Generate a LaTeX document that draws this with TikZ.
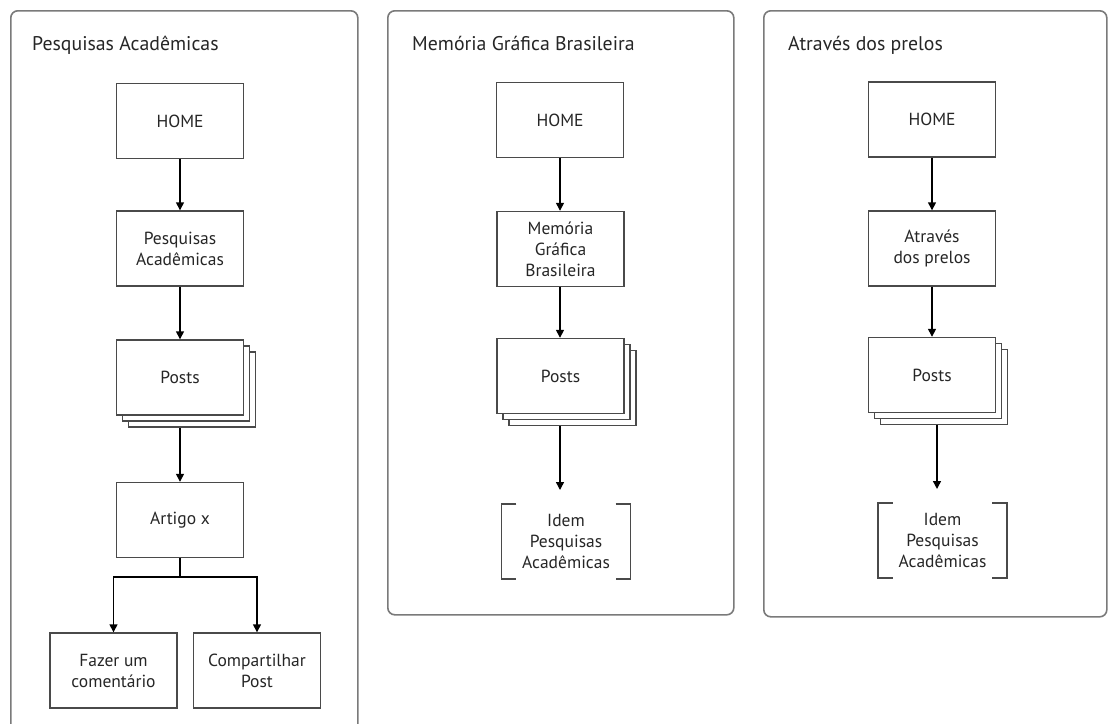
\documentclass[tikz,border=0pt]{standalone}
\usepackage{fontspec}
\setmainfont{PT Sans}
\usetikzlibrary{arrows.meta,calc}
\definecolor{panelgray}{HTML}{7A7A7A}
\definecolor{boxgray}{HTML}{4A4A4A}
\definecolor{txtgray}{HTML}{262626}
\tikzset{
  panel/.style={draw=panelgray, line width=1.6pt, rounded corners=7pt, anchor=north west, inner sep=0pt},
  ptitle/.style={anchor=base west, text=txtgray, font=\fontsize{19.8}{22}\selectfont, inner sep=0pt},
  box/.style={draw=boxgray, line width=1.4pt, fill=white, minimum width=127pt, minimum height=75pt,
              align=center, text=txtgray, font=\fontsize{17.5}{21}\selectfont, inner sep=2pt},
  brtext/.style={minimum width=129pt, minimum height=75pt, align=center, text=txtgray,
              font=\fontsize{17.5}{21}\selectfont, inner sep=2pt},
  brk/.style={draw=boxgray, line width=1.5pt},
  arr/.style={draw=black, line width=1.4pt, -{Triangle[length=8pt,width=8pt]}},
  ln/.style={draw=black, line width=1.4pt},
}
\begin{document}
\begin{tikzpicture}[x=1pt,y=-1pt]
\useasboundingbox (0,0) rectangle (1108,723);
\fill[white] (0,0) rectangle (1108,723);
\clip (0,0) rectangle (1108,723);

% ---------- Panels ----------
\node[panel, minimum width=347pt, minimum height=730pt] (pan1) at (10,10) {};
\node[panel, minimum width=346pt, minimum height=604pt] (pan2) at (387,10) {};
\node[panel, minimum width=343pt, minimum height=606pt] (pan3) at (763,10) {};
\node[ptitle] (t1) at (32,50) {Pesquisas Acadêmicas};
\node[ptitle] (t2) at (412,50) {Memória Gráfica Brasileira};
\node[ptitle] (t3) at (788,50) {Através dos prelos};

% ---------- Panel 1 ----------
\node[box] (h1) at (180,121) {HOME};
\node[box] (pa1) at (180,248.5) {Pesquisas\\Acadêmicas};
\coordinate (c1) at (180,377.5);
\node[box] (p1c) at ($(c1)+(12,12)$) {};
\node[box] (p1b) at ($(c1)+(6,6)$) {};
\node[box] (p1) at (c1) {Posts};
\node[box] (art) at (180,520) {Artigo x};
\node[box] (faz) at (113.5,670.5) {Fazer um\\comentário};
\node[box] (comp) at (257,670.5) {Compartilhar\\Post};
\coordinate (split1) at (180,577);

\draw[arr] (h1) -- (pa1);
\draw[arr] (pa1) -- (p1);
\draw[arr] (p1.south |- p1c.south) -- (art.north);
\draw[ln] (art.south) -- (split1);
\draw[arr] (split1) -| (faz.north);
\draw[arr] (split1) -| (comp.north);

% ---------- Panel 2 ----------
\node[box] (h2) at (560,120) {HOME};
\node[box] (m2) at (560.5,249) {Memória\\Gráfica\\Brasileira};
\coordinate (c2) at (560.5,376);
\node[box] (p2c) at ($(c2)+(12,12)$) {};
\node[box] (p2b) at ($(c2)+(6,6)$) {};
\node[box] (p2) at (c2) {Posts};
\node[brtext] (b2) at (566,541.5) {Idem\\Pesquisas\\Acadêmicas};
\coordinate (e2) at (560,490);

\draw[arr] (h2) -- (h2 |- m2.north);
\draw[arr] (m2.south -| h2) -- (h2 |- p2.north);
\draw[arr] (e2 |- p2c.south) -- (e2);
\draw[brk] ([xshift=15pt]b2.north west) -- (b2.north west) -- (b2.south west) -- ([xshift=15pt]b2.south west);
\draw[brk] ([xshift=-15pt]b2.north east) -- (b2.north east) -- (b2.south east) -- ([xshift=-15pt]b2.south east);

% ---------- Panel 3 ----------
\node[box] (h3) at (932,119.5) {HOME};
\node[box] (a3) at (932,248.5) {Através\\dos prelos};
\coordinate (c3) at (932,375);
\node[box] (p3c) at ($(c3)+(12,12)$) {};
\node[box] (p3b) at ($(c3)+(6,6)$) {};
\node[box] (p3) at (c3) {Posts};
\node[brtext] (b3) at (942.5,540.5) {Idem\\Pesquisas\\Acadêmicas};
\coordinate (e3) at (937,489);

\draw[arr] (h3) -- (a3);
\draw[arr] (a3) -- (p3);
\draw[arr] (e3 |- p3c.south) -- (e3);
\draw[brk] ([xshift=15pt]b3.north west) -- (b3.north west) -- (b3.south west) -- ([xshift=15pt]b3.south west);
\draw[brk] ([xshift=-15pt]b3.north east) -- (b3.north east) -- (b3.south east) -- ([xshift=-15pt]b3.south east);
\end{tikzpicture}
\end{document}
